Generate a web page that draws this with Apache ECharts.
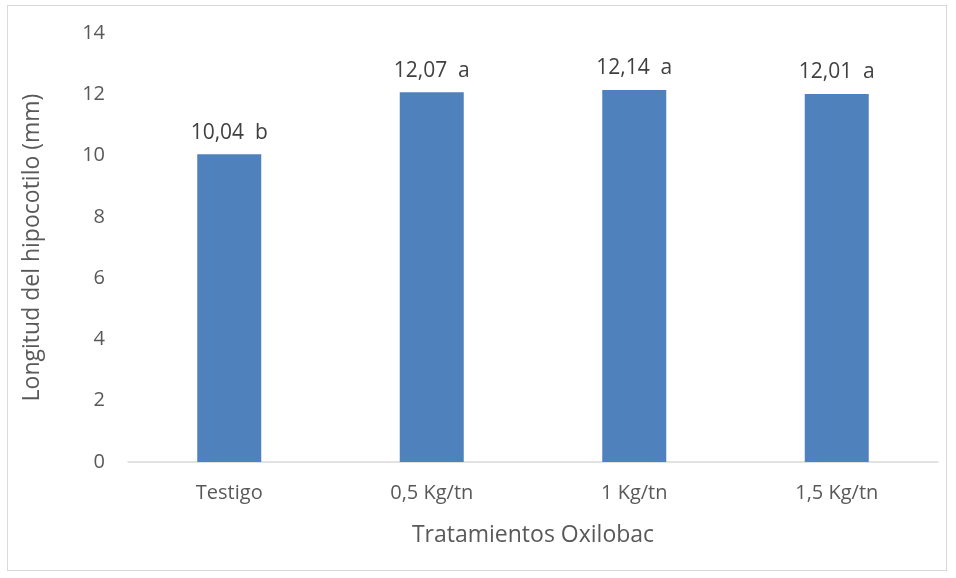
<!DOCTYPE html>
<html>
<head>
<meta charset="utf-8">
<script src="https://cdn.jsdelivr.net/npm/echarts@6/dist/echarts.min.js"></script>
<style>
  html, body { margin: 0; padding: 0; background: #fff; }
  #frame { position: absolute; left: 7px; top: 5px; width: 940px; height: 566px; border: 1px solid #d9d9d9; box-sizing: border-box; }
  #chart { position: absolute; left: 0; top: 0; width: 956px; height: 578px; }
</style>
</head>
<body>
<div id="frame"></div>
<div id="chart"></div>
<script>
// Hypocotyl length per Oxilobac dose, with significance letters
const categories = ['Testigo', '0,5 Kg/tn', '1 Kg/tn', '1,5 Kg/tn'];
const values = [10.04, 12.07, 12.14, 12.01];
const letters = ['b', 'a', 'a', 'a'];
const yTicks = [0, 2, 4, 6, 8, 10, 12, 14];

const FONT = 'Open Sans';
const TEXT = '#595959';

const chart = echarts.init(document.getElementById('chart'), null, { renderer: 'canvas' });
chart.setOption({
  animation: false,
  grid: { left: 128, right: 18, top: 33, bottom: 116, containLabel: false },
  xAxis: {
    type: 'category',
    data: categories,
    axisLine: { lineStyle: { color: '#d9d9d9', width: 1.5 } },
    axisTick: { show: false },
    axisLabel: { color: TEXT, fontFamily: FONT, fontSize: 20, margin: 21 },
    name: 'Tratamientos Oxilobac',
    nameLocation: 'middle',
    nameGap: 62,
    nameTextStyle: { color: TEXT, fontFamily: FONT, fontSize: 23 }
  },
  yAxis: {
    type: 'value',
    min: yTicks[0],
    max: yTicks[yTicks.length - 1],
    interval: 2,
    splitLine: { show: false },
    axisLine: { show: false },
    axisTick: { show: false },
    axisLabel: { color: TEXT, fontFamily: FONT, fontSize: 20, margin: 23 },
    name: 'Longitud del hipocotilo (mm)',
    nameLocation: 'middle',
    nameGap: 84,
    nameTextStyle: { color: TEXT, fontFamily: FONT, fontSize: 23 }
  },
  series: [{
    type: 'bar',
    data: values,
    barWidth: 64,
    itemStyle: { color: '#4f81bd' },
    label: {
      show: true,
      position: 'top',
      distance: 11,
      color: '#404040',
      fontFamily: FONT,
      fontSize: 21,
      formatter: p => p.value.toFixed(2).replace('.', ',') + '  ' + letters[p.dataIndex]
    }
  }]
});
</script>
</body>
</html>
